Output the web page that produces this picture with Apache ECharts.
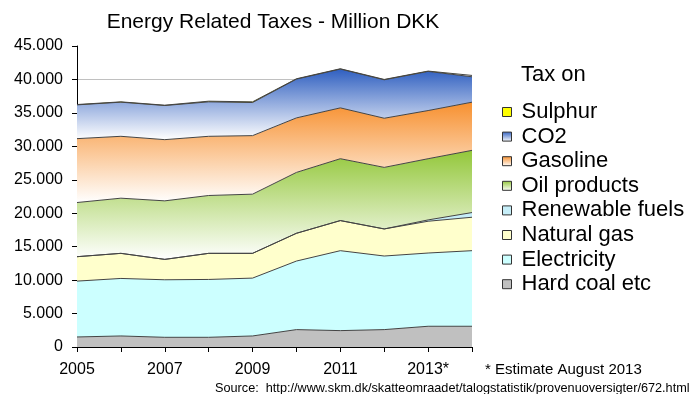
<!DOCTYPE html>
<html>
<head>
<meta charset="utf-8">
<script src="https://cdn.jsdelivr.net/npm/echarts@6/dist/echarts.min.js"></script>
<style>
html,body{margin:0;padding:0;background:#fff;}
#chart{width:696px;height:394px;}
</style>
</head>
<body>
<div id="chart"></div>
<script>
var years = ['2005','2006','2007','2008','2009','2010','2011','2012','2013*','2014'];
var hardCoal   = [1500,1650,1450,1450,1650,2600,2450,2600,3100,3100];
var electricity= [8350,8600,8600,8650,8650,10250,11950,11000,10950,11300];
var naturalGas = [3650,3750,3050,3900,3700,4150,4500,4050,4750,5000];
var renewable  = [0,0,0,0,0,0,0,0,200,700];
var oilProducts= [8100,8250,8750,8650,8850,9100,9250,9200,9150,9300];
var gasoline   = [9550,9250,9150,8850,8750,8150,7600,7350,7200,7200];
var co2        = [5050,5100,5100,5150,4950,5800,5800,5750,5850,3800];
var sulphur    = [50,50,50,100,100,50,50,50,50,200];

var yTicks = [0,5000,10000,15000,20000,25000,30000,35000,40000,45000];

function grad(c){
  return new echarts.graphic.LinearGradient(0,0,0,1,[{offset:0,color:c},{offset:1,color:'#ffffff'}]);
}
var lineCol = '#444444';
var FF = 'Liberation Sans, Arial, sans-serif';
function mk(name, data, color){
  return {
    name:name, type:'line', stack:'total', data:data, symbol:'none',
    lineStyle:{width:1,color:lineCol},
    itemStyle:{color:color},
    areaStyle:{color:color, opacity:1},
    emphasis:{disabled:true}
  };
}
function fmt(v){ return String(v).replace(/\B(?=(\d{3})+(?!\d))/g,'.'); }

var chart = echarts.init(document.getElementById('chart'));
var splitColors = yTicks.map(function(v,i){ return i===yTicks.length-1 ? 'rgba(0,0,0,0)' : '#c0c0c0'; });
chart.setOption({
  animation:false,
  backgroundColor:'#ffffff',
  textStyle:{fontFamily:FF},
  title:{
    text:'Energy Related Taxes - Million DKK',
    left:268, top:7, textAlign:'center',
    textStyle:{fontSize:21,fontWeight:'normal',color:'#000',fontFamily:FF}
  },
  grid:{left:77,right:224,top:46,bottom:47,containLabel:false},
  legend:{
    orient:'vertical', left:497, top:96,
    itemWidth:9, itemHeight:9, itemGap:2.6,
    icon:'rect',
    itemStyle:{borderColor:'#333',borderWidth:1},
    textStyle:{fontSize:22,color:'#000',fontFamily:FF,padding:[0,0,0,5]},
    data:['Sulphur','CO2','Gasoline','Oil products','Renewable fuels','Natural gas','Electricity','Hard coal etc']
  },
  xAxis:{
    type:'category', data:years, boundaryGap:false,
    axisLine:{lineStyle:{color:'#000',width:1}},
    axisTick:{show:true,interval:0,length:5,lineStyle:{color:'#000'}},
    axisLabel:{interval:1,fontSize:16,color:'#000',margin:15},
    splitLine:{show:false}
  },
  yAxis:{
    type:'value', min:0, max:45000, interval:5000,
    axisLine:{show:true,lineStyle:{color:'#000',width:1}},
    axisTick:{show:true,length:5,lineStyle:{color:'#000'}},
    axisLabel:{fontSize:16,color:'#000',margin:14,formatter:fmt},
    splitLine:{show:true,lineStyle:{color:splitColors,width:1}}
  },
  series:[
    mk('Hard coal etc', hardCoal, '#c0c0c0'),
    mk('Electricity', electricity, '#ccffff'),
    mk('Natural gas', naturalGas, '#ffffcc'),
    mk('Renewable fuels', renewable, '#c6eef8'),
    mk('Oil products', oilProducts, grad('#93c73a')),
    mk('Gasoline', gasoline, grad('#f7902f')),
    mk('CO2', co2, grad('#2f5fc0')),
    mk('Sulphur', sulphur, '#ffff00')
  ],
  graphic:[
    {type:'text',left:521,top:64,style:{text:'Tax on',fontSize:22,fill:'#000',fontFamily:FF}},
    {type:'text',left:485,top:362,style:{text:'* Estimate August 2013',fontSize:15,fill:'#000',fontFamily:FF}},
    {type:'text',left:215,top:382,style:{text:'Source:  http://www.skm.dk/skatteomraadet/talogstatistik/provenuoversigter/672.html',fontSize:12.7,fill:'#000',fontFamily:FF}}
  ]
});
</script>
</body>
</html>
